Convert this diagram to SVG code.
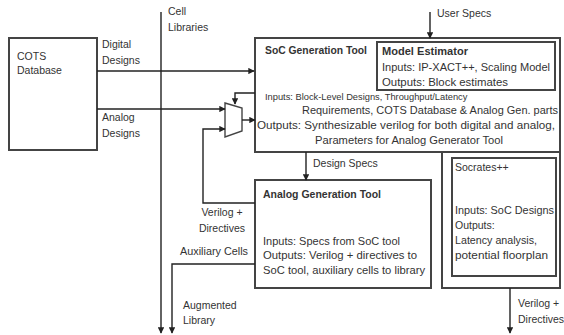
<svg xmlns="http://www.w3.org/2000/svg" width="564" height="335" viewBox="0 0 564 335">
<defs>
<marker id="ah" viewBox="0 0 10 10" refX="9" refY="5" markerWidth="4.5" markerHeight="4.5" orient="auto">
<path d="M0,0 L10,5 L0,10 z" fill="#222"/>
</marker>
<style>
text{font-family:"Liberation Sans",Arial,sans-serif;font-size:10.5px;fill:#333}
.b{font-weight:bold;font-size:10.2px}
.sm{font-size:9.3px}
.box{fill:none;stroke:#444;stroke-width:2}
.ar{fill:none;stroke:#222;stroke-width:1.4;marker-end:url(#ah)}
</style>
</defs>
<rect width="564" height="335" fill="#fff"/>

<g id="cots">
<rect class="box" x="9" y="38" width="88" height="112"/>
<text x="17" y="60">COTS</text>
<text x="17" y="74">Database</text>
</g>

<g id="soc">
<rect class="box" x="255" y="38" width="305" height="114"/>
<text class="b" x="265" y="54" textLength="102" lengthAdjust="spacingAndGlyphs">SoC Generation Tool</text>
<text class="sm" x="265" y="100">Inputs:  Block-Level Designs, Throughput/Latency</text>
<text x="302" y="114" textLength="256" lengthAdjust="spacingAndGlyphs">Requirements, COTS Database &amp; Analog Gen. parts</text>
<text x="257" y="129" textLength="298" lengthAdjust="spacingAndGlyphs">Outputs: Synthesizable verilog for both digital and analog,</text>
<text x="315" y="144" textLength="188" lengthAdjust="spacingAndGlyphs">Parameters for Analog Generator Tool</text>
</g>

<g id="model">
<rect class="box" x="377" y="42" width="178" height="48"/>
<text class="b" x="382" y="55" textLength="86" lengthAdjust="spacingAndGlyphs">Model  Estimator</text>
<text x="382" y="71" textLength="168" lengthAdjust="spacingAndGlyphs">Inputs:  IP-XACT++, Scaling Model</text>
<text x="382" y="86" textLength="126" lengthAdjust="spacingAndGlyphs">Outputs:  Block estimates</text>
</g>

<g id="mux">
<path d="M225,103 L242,108 L242,131 L225,137 Z" fill="#fff" stroke="#444" stroke-width="1.4"/>
</g>

<g id="analog">
<rect class="box" x="255" y="180" width="176" height="108"/>
<text class="b" x="263" y="198" textLength="118" lengthAdjust="spacingAndGlyphs">Analog  Generation Tool</text>
<text x="263" y="245" textLength="137" lengthAdjust="spacingAndGlyphs">Inputs:  Specs from SoC tool</text>
<text x="263" y="259" textLength="154" lengthAdjust="spacingAndGlyphs">Outputs:  Verilog + directives to</text>
<text x="263" y="274" textLength="162" lengthAdjust="spacingAndGlyphs">SoC tool, auxiliary cells to library</text>
</g>

<g id="socrates">
<rect class="box" x="442" y="152" width="118" height="136"/>
<rect class="box" x="452" y="158" width="104" height="118"/>
<text x="455" y="171">Socrates++</text>
<text x="455" y="214" textLength="99" lengthAdjust="spacingAndGlyphs">Inputs:  SoC Designs</text>
<text x="455" y="229">Outputs:</text>
<text x="455" y="244" textLength="82" lengthAdjust="spacingAndGlyphs">Latency analysis,</text>
<text x="455" y="259" textLength="93" lengthAdjust="spacingAndGlyphs">potential floorplan</text>
</g>

<g id="connectors">
<path class="ar" d="M161,12 V333"/>
<path class="ar" d="M97,71 H254"/>
<path class="ar" d="M97,109 H225"/>
<path class="ar" d="M255,93 H235 V104"/>
<path class="ar" d="M242,120 H255"/>
<path class="ar" d="M255,203 H203 V129 H225"/>
<path class="ar" d="M430,12 V38"/>
<path class="ar" d="M306,152 V180"/>
<path class="ar" d="M255,264 H172 V333"/>
<path class="ar" d="M510,288 V333"/>
</g>

<g id="labels">
<text x="168" y="15">Cell</text>
<text x="168" y="31">Libraries</text>
<text x="102" y="48">Digital</text>
<text x="102" y="64">Designs</text>
<text x="102" y="121">Analog</text>
<text x="102" y="137">Designs</text>
<text x="437" y="17">User Specs</text>
<text x="313" y="167">Design Specs</text>
<text x="222" y="216" text-anchor="middle">Verilog +</text>
<text x="222" y="232" text-anchor="middle">Directives</text>
<text x="180" y="255" textLength="68" lengthAdjust="spacingAndGlyphs">Auxiliary Cells</text>
<text x="183" y="309">Augmented</text>
<text x="183" y="324">Library</text>
<text x="518" y="307">Verilog +</text>
<text x="518" y="323">Directives</text>
</g>
</svg>
